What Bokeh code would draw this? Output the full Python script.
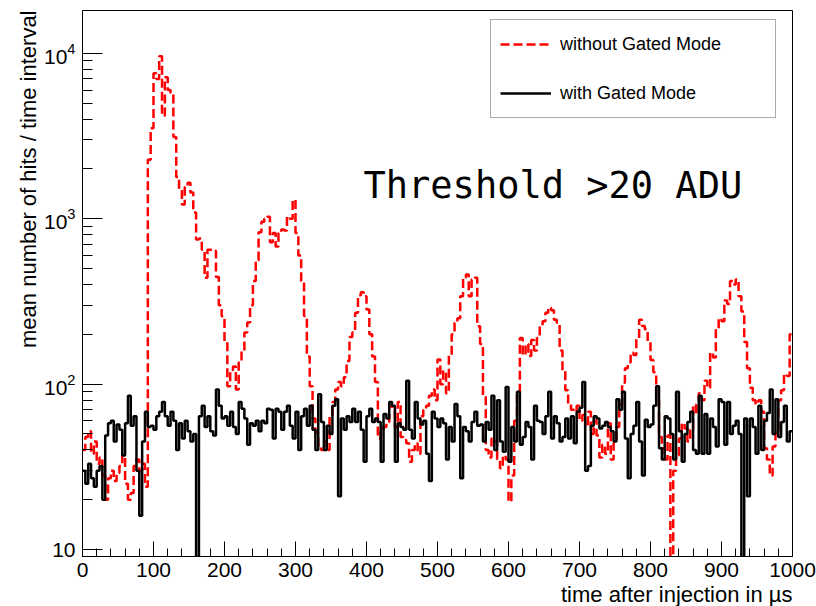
import numpy as np
from bokeh.plotting import figure
from bokeh.models import (Range1d, SingleIntervalTicker, LogTicker, LogTickFormatter,
                          Label, Legend, LegendItem, Title)
from bokeh.embed import file_html
from bokeh.resources import INLINE

# ---------------- data ----------------
bin_width = 4  # microseconds per bin

without_gated = [
    40, 48, 52, 38, 45, 33, 36, 28, 20, 27,
    30, 26, 29, 32, 37, 25, 20, 22, 32, 35,
    30, 33, 24, 2270, 3530, 7580, 7000, 9600, 4200, 7170,
    6000, 5750, 3120, 1790, 1500, 1220, 1560, 1650, 1440, 1090,
    750, 760, 650, 440, 650, 650, 640, 445, 300, 257,
    180, 97, 122, 128, 93, 135, 160, 205, 236, 300,
    420, 560, 830, 960, 1000, 1030, 720, 820, 680, 820,
    860, 850, 1030, 1000, 1300, 820, 600, 420, 258, 147,
    97, 62, 51, 43, 40, 45, 40, 64, 78, 93,
    103, 97, 110, 138, 193, 205, 270, 345, 360, 340,
    283, 200, 147, 103, 47, 53, 55, 59, 74, 70,
    55, 78, 48, 46, 44, 34, 40, 44, 38, 64,
    70, 74, 85, 93, 80, 141, 100, 120, 88, 150,
    200, 235, 250, 340, 440, 460, 340, 430, 440, 224,
    175, 85, 40, 36, 47, 45, 35, 31, 37, 35,
    19.5, 28, 60, 88, 190, 150, 175, 148, 185, 160,
    190, 225, 240, 270, 290, 280, 245, 235, 160, 120,
    92, 76, 70, 68, 74, 60, 65, 55, 68, 50,
    60, 49, 36, 43, 38, 58, 35, 44, 55, 75,
    102, 125, 135, 155, 150, 190, 245, 225, 215, 180,
    140, 118, 80, 48, 41, 35, 49, 7, 30, 37,
    47, 58, 54, 45, 53, 75, 66, 88, 80, 105,
    95, 155, 145, 215, 250, 240, 320, 305, 420, 400,
    430, 340, 275, 180, 125, 95, 80, 76, 80, 68,
    41, 35, 28, 42, 52, 80, 92, 115, 112, 200,
]

with_gated = [
    30, 25, 33, 27, 24, 30, 32, 20, 49, 58,
    60, 45, 57, 53, 37, 58, 85, 56, 64, 30,
    16, 45, 68, 55, 56, 53, 64, 68, 78, 64,
    56, 68, 60, 40, 58, 47, 60, 52, 45, 50,
    5, 64, 74, 55, 64, 52, 49, 93, 74, 62,
    64, 56, 68, 55, 50, 78, 71, 62, 43, 58,
    56, 60, 52, 60, 58, 71, 70, 47, 71, 68,
    53, 68, 74, 56, 47, 68, 40, 64, 71, 56,
    74, 53, 40, 87, 59, 40, 56, 50, 74, 81,
    21, 62, 53, 64, 59, 71, 59, 68, 53, 34,
    64, 71, 59, 62, 59, 34, 66, 62, 78, 74,
    34, 58, 55, 53, 105, 53, 47, 78, 62, 57,
    60, 38, 26, 68, 62, 55, 62, 58, 35, 55,
    45, 76, 64, 27, 55, 52, 45, 59, 68, 56,
    57, 45, 59, 53, 85, 40, 80, 45, 39, 96,
    34, 55, 45, 90, 43, 48, 59, 55, 35, 74,
    60, 59, 50, 64, 90, 47, 64, 58, 45, 48,
    62, 47, 64, 44, 68, 72, 103, 30, 32, 56,
    64, 62, 54, 56, 59, 55, 52, 45, 81, 70,
    90, 47, 27, 50, 56, 78, 45, 28, 61, 55,
    57, 74, 97, 41, 35, 64, 62, 50, 35, 90,
    52, 34, 50, 59, 68, 40, 38, 85, 38, 66,
    38, 62, 55, 42, 81, 78, 43, 78, 50, 56,
    60, 50, 5, 62, 21, 62, 55, 38, 74, 40,
    60, 67, 93, 50, 81, 48, 59, 74, 45, 52,
]

series_labels = ["without Gated Mode", "with Gated Mode"]
x_title = "time after injection in µs"
y_title = "mean number of hits / time interval"
annotation = "Threshold >20 ADU"

# ---------------- build ----------------
n = len(without_gated)
edges = [i * bin_width for i in range(n + 1)]
red_y = without_gated + [without_gated[-1]]
black_y = with_gated + [with_gated[-1]]

p = figure(width=816, height=606, x_range=Range1d(0, 1000),
           y_range=Range1d(9.08, 18160), y_axis_type="log",
           output_backend="svg", toolbar_location=None, title=None,
           min_border_left=82, min_border_right=24,
           min_border_top=10, min_border_bottom=48)
p.background_fill_color = "white"
p.border_fill_color = "white"
p.xgrid.visible = False
p.ygrid.visible = False
p.outline_line_color = "black"
p.outline_line_width = 1
p.outline_line_alpha = 1

r_red = p.step(edges, red_y, mode="after", line_color="#ff0000",
               line_width=2.5, line_dash="9 4")
r_black = p.step(edges, black_y, mode="after", line_color="black",
                 line_width=2.5)

FONT = "Liberation Sans"

xa = p.xaxis[0]
xa.ticker = SingleIntervalTicker(interval=100, num_minor_ticks=5)
xa.major_tick_in = 15
xa.major_tick_out = 0
xa.minor_tick_in = 8
xa.minor_tick_out = 0
xa.major_label_standoff = 6
xa.major_label_text_font = FONT
xa.major_label_text_font_size = "21px"
xa.major_label_text_color = "black"
xa.axis_line_color = "black"
xa.major_tick_line_color = "black"
xa.minor_tick_line_color = "black"

ya = p.yaxis[0]
ya.ticker = LogTicker(num_minor_ticks=10)
ya.formatter = LogTickFormatter(min_exponent=2)
ya.major_tick_in = 20
ya.major_tick_out = 0
ya.minor_tick_in = 10
ya.minor_tick_out = 0
ya.major_label_standoff = 7
ya.major_label_text_font = FONT
ya.major_label_text_font_size = "21px"
ya.major_label_text_color = "black"
ya.axis_line_color = "black"
ya.major_tick_line_color = "black"
ya.minor_tick_line_color = "black"

legend = Legend(items=[LegendItem(label=series_labels[0], renderers=[r_red]),
                       LegendItem(label=series_labels[1], renderers=[r_black])],
                location=(408, 438), orientation="vertical",
                padding=9, margin=0, spacing=19,
                glyph_width=51, glyph_height=30,
                label_standoff=9, label_width=206, label_height=30,
                label_text_font=FONT, label_text_font_size="18px",
                label_text_color="black",
                border_line_color="#555555", border_line_width=1,
                background_fill_color="white", background_fill_alpha=1)
p.add_layout(legend)

p.add_layout(Title(text=x_title, align="right", standoff=0, offset=0,
                   text_font=FONT, text_font_size="22px", text_font_style="normal",
                   text_color="black"), "below")
p.add_layout(Title(text=y_title, align="right", standoff=0, offset=0,
                   text_font=FONT, text_font_size="22px", text_font_style="normal",
                   text_color="black"), "left")

p.add_layout(Label(x=281, y=371, x_units="screen", y_units="screen",
                   text=annotation, text_align="left", text_baseline="alphabetic",
                   text_font="DejaVu Sans Mono", text_font_size="37px",
                   text_color="black"))

open("out.html", "w").write(file_html(p, INLINE))
